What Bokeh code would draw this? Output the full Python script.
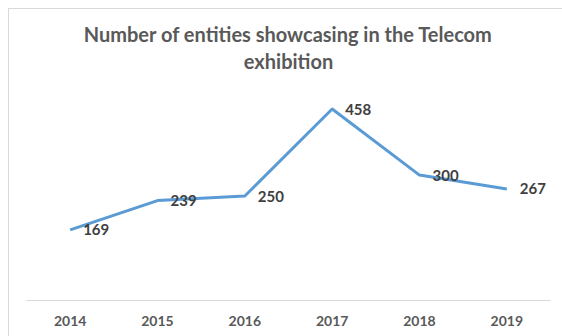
from bokeh.plotting import figure
from bokeh.models import ColumnDataSource, LabelSet, Range1d, Title
from bokeh.core.properties import value
from bokeh.embed import file_html
from bokeh.resources import INLINE

years = ["2014", "2015", "2016", "2017", "2018", "2019"]
entities = [169, 239, 250, 458, 300, 267]
title_line1 = "Number of entities showcasing in the Telecom"
title_line2 = "exhibition"

src = ColumnDataSource(dict(year=years, value=entities, label=[str(v) for v in entities]))

p = figure(width=554, height=328, x_range=years, y_range=Range1d(0, 500),
           output_backend="svg", toolbar_location=None, title=None,
           margin=(8, 0, 0, 8),
           min_border_left=17, min_border_right=13, min_border_top=82, min_border_bottom=37)
p.styles = {"border-left": "1px solid #d9d9d9", "border-top": "1px solid #d9d9d9"}

p.line("year", "value", source=src, line_color="#5B9BD5", line_width=3, line_join="round")

labels = LabelSet(x="year", y="value", text="label", source=src, x_offset=13,
                  text_baseline="middle", text_align="left", text_font=value("Lato"),
                  text_font_style="bold", text_font_size="15px", text_color="#404040")
p.add_layout(labels)

t2 = Title(text=title_line2, align="center", text_font="Lato", text_font_style="bold",
           text_font_size="20px", text_color="#595959", standoff=38)
t1 = Title(text=title_line1, align="center", text_font="Lato", text_font_style="bold",
           text_font_size="20px", text_color="#595959", standoff=-36)
p.add_layout(t2, "above")
p.add_layout(t1, "above")

p.yaxis.visible = False
p.xgrid.visible = False
p.ygrid.visible = False
p.outline_line_color = None

ax = p.xaxis[0]
ax.axis_line_color = "#d9d9d9"
ax.axis_line_width = 1
ax.major_tick_line_color = None
ax.minor_tick_line_color = None
ax.major_label_standoff = 9
ax.major_label_text_font = "Lato"
ax.major_label_text_font_style = "bold"
ax.major_label_text_font_size = "14px"
ax.major_label_text_color = "#595959"

open("out.html", "w").write(file_html(p, INLINE))
